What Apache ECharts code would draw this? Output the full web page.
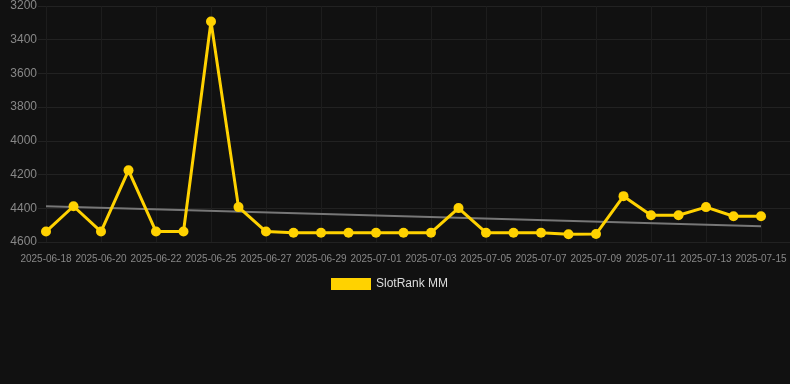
<!DOCTYPE html>
<html>
<head>
<meta charset="utf-8">
<script src="https://cdn.jsdelivr.net/npm/echarts@6/dist/echarts.min.js"></script>
<style>
  html, body { margin: 0; padding: 0; background: #111111; }
  #chart { width: 790px; height: 384px; }
</style>
</head>
<body>
<div id="chart"></div>
<script>
// dates on the category axis (one day is missing between 06-22 and 06-25)
const dates = [
    "2025-06-18", "2025-06-19", "2025-06-20", "2025-06-21", "2025-06-22", "2025-06-24",
    "2025-06-25", "2025-06-26", "2025-06-27", "2025-06-28", "2025-06-29", "2025-06-30",
    "2025-07-01", "2025-07-02", "2025-07-03", "2025-07-04", "2025-07-05", "2025-07-06",
    "2025-07-07", "2025-07-08", "2025-07-09", "2025-07-10", "2025-07-11", "2025-07-12",
    "2025-07-13", "2025-07-14", "2025-07-15"
];

// rank values (lower is better, axis is inverted)
const rankValues = [
    4538, 4388, 4538, 4175, 4538, 4538,
    3292, 4393, 4538, 4545, 4545, 4545,
    4545, 4545, 4545, 4399, 4545, 4545,
    4545, 4554, 4553, 4328, 4441, 4441,
    4393, 4447, 4447
];

// trend line end points
const trendStart = 4388;
const trendEnd = 4506;

const seriesName = "SlotRank MM";

const rankAxis = {
    type: "value",
    inverse: true,
    min: 3200,
    max: 4600,
    interval: 200
};

const chart = echarts.init(document.getElementById("chart"));
chart.setOption({
    backgroundColor: "#111111",
    animation: false,
    grid: [
        { left: 46, right: 29, top: 6, bottom: 142 },
        // wider background grid, only for the horizontal lines
        { left: 38, right: 0, top: 6, bottom: 142 }
    ],
    legend: {
        data: [seriesName],
        top: 273,
        left: 326,
        icon: "rect",
        itemWidth: 40,
        itemHeight: 12,
        itemGap: 6,
        textStyle: { color: "#dddddd", fontSize: 12 }
    },
    xAxis: [
        {
            type: "category",
            gridIndex: 0,
            data: dates,
            boundaryGap: false,
            axisLine: { show: false },
            axisTick: { show: false },
            axisLabel: { color: "#888888", fontSize: 10, interval: 1, margin: 12 },
            splitLine: { show: true, interval: 1, lineStyle: { color: "#1d1d1d", width: 1 } }
        },
        {
            type: "value",
            gridIndex: 1,
            show: false
        }
    ],
    yAxis: [
        Object.assign({}, rankAxis, {
            gridIndex: 0,
            axisLine: { show: false },
            axisTick: { show: false },
            axisLabel: { color: "#888888", fontSize: 12, margin: 9, formatter: (v) => String(v) },
            splitLine: { show: false }
        }),
        Object.assign({}, rankAxis, {
            gridIndex: 1,
            axisLine: { show: false },
            axisTick: { show: false },
            axisLabel: { show: false },
            splitLine: { lineStyle: { color: "#222222", width: 1 } }
        })
    ],
    series: [
        {
            name: "trend",
            type: "line",
            xAxisIndex: 0,
            yAxisIndex: 0,
            data: [[dates[0], trendStart], [dates[dates.length - 1], trendEnd]],
            symbol: "none",
            lineStyle: { color: "#777777", width: 2 },
            z: 1,
            silent: true
        },
        {
            name: seriesName,
            type: "line",
            xAxisIndex: 0,
            yAxisIndex: 0,
            data: rankValues,
            symbol: "circle",
            symbolSize: 10,
            itemStyle: { color: "#ffd200" },
            lineStyle: { color: "#ffd200", width: 3 },
            z: 2
        }
    ]
});
</script>
</body>
</html>
